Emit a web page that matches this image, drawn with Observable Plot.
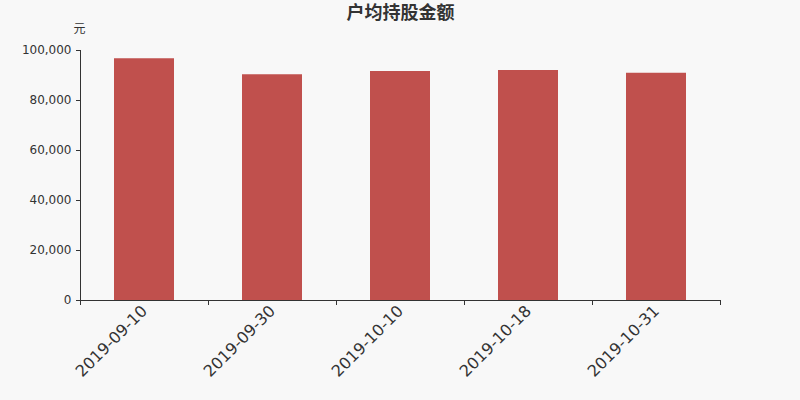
<!DOCTYPE html>
<html><head><meta charset="utf-8">
<script src="https://cdn.jsdelivr.net/npm/d3@7"></script>
<script src="https://cdn.jsdelivr.net/npm/@observablehq/plot@0.6"></script>
<style>
html,body{margin:0;padding:0;background:#f8f8f8;}
svg{font-family:"DejaVu Sans","Noto Sans CJK SC",sans-serif;}
</style></head>
<body><div id="chart"></div>
<script>
const dates = ["2019-09-10","2019-09-30","2019-10-10","2019-10-18","2019-10-31"];
const values = [96700, 90300, 91600, 92000, 90900];
const yTicks = [0,20000,40000,60000,80000,100000];
const title = "户均持股金额";
const unit = "元";

const data = dates.map((d,i)=>({date:d, value:values[i]}));

const chart = Plot.plot({
  width: 800, height: 400,
  marginTop: 50, marginBottom: 100, marginLeft: 80, marginRight: 80,
  style: {background: "#f8f8f8", color: "#333", fontSize: "12px", fontFamily: "DejaVu Sans, Noto Sans CJK SC, sans-serif"},
  x: {domain: dates, paddingInner: 0.53, paddingOuter: 0.265, align: 0.5, label: null},
  y: {domain: [0,100000], label: null},
  marks: [
    Plot.barY(data, {x: "date", y: "value", fill: "#c0504d"}),
    Plot.ruleY([0], {stroke: "#333"}),
    Plot.axisX({tickRotate: -45, tickSize: 0, fontSize: 16, tickPadding: 8, label: null, fill: "#333"}),
    Plot.axisY({ticks: yTicks, tickFormat: d3.format(","), tickSize: 4, tickPadding: 5, label: null, fill: "#333", stroke: "#333"}),
    Plot.text([title], {frameAnchor: "top", lineAnchor: "middle", dy: -37, fontSize: 18, fontWeight: "bold", fill: "#333", letterSpacing: "1px"}),
    Plot.text([unit], {frameAnchor: "top-left", lineAnchor: "middle", textAnchor: "middle", dy: -21, dx: -1, fontSize: 12, fill: "#333"})
  ]
});
document.getElementById("chart").appendChild(chart);

// y axis line and band-edge ticks on x axis, from Plot's own scales
const svg = d3.select(chart);
const xs = chart.scale("x");
const ys = chart.scale("y");
const step = xs.step, bw = xs.bandwidth;
const y0 = ys.apply(0), y1 = ys.apply(100000);
const x0 = xs.apply(dates[0]) - (step - bw) / 2;
const g = svg.append("g").attr("stroke", "#333").attr("stroke-width", 1);
g.append("line").attr("x1", x0 + 0.5).attr("x2", x0 + 0.5).attr("y1", y1).attr("y2", y0);
for (let i = 0; i <= dates.length; i++) {
  const x = Math.round(x0 + i * step) + 0.5;
  g.append("line").attr("x1", x).attr("x2", x).attr("y1", y0).attr("y2", y0 + 5);
}
</script>
</body></html>
